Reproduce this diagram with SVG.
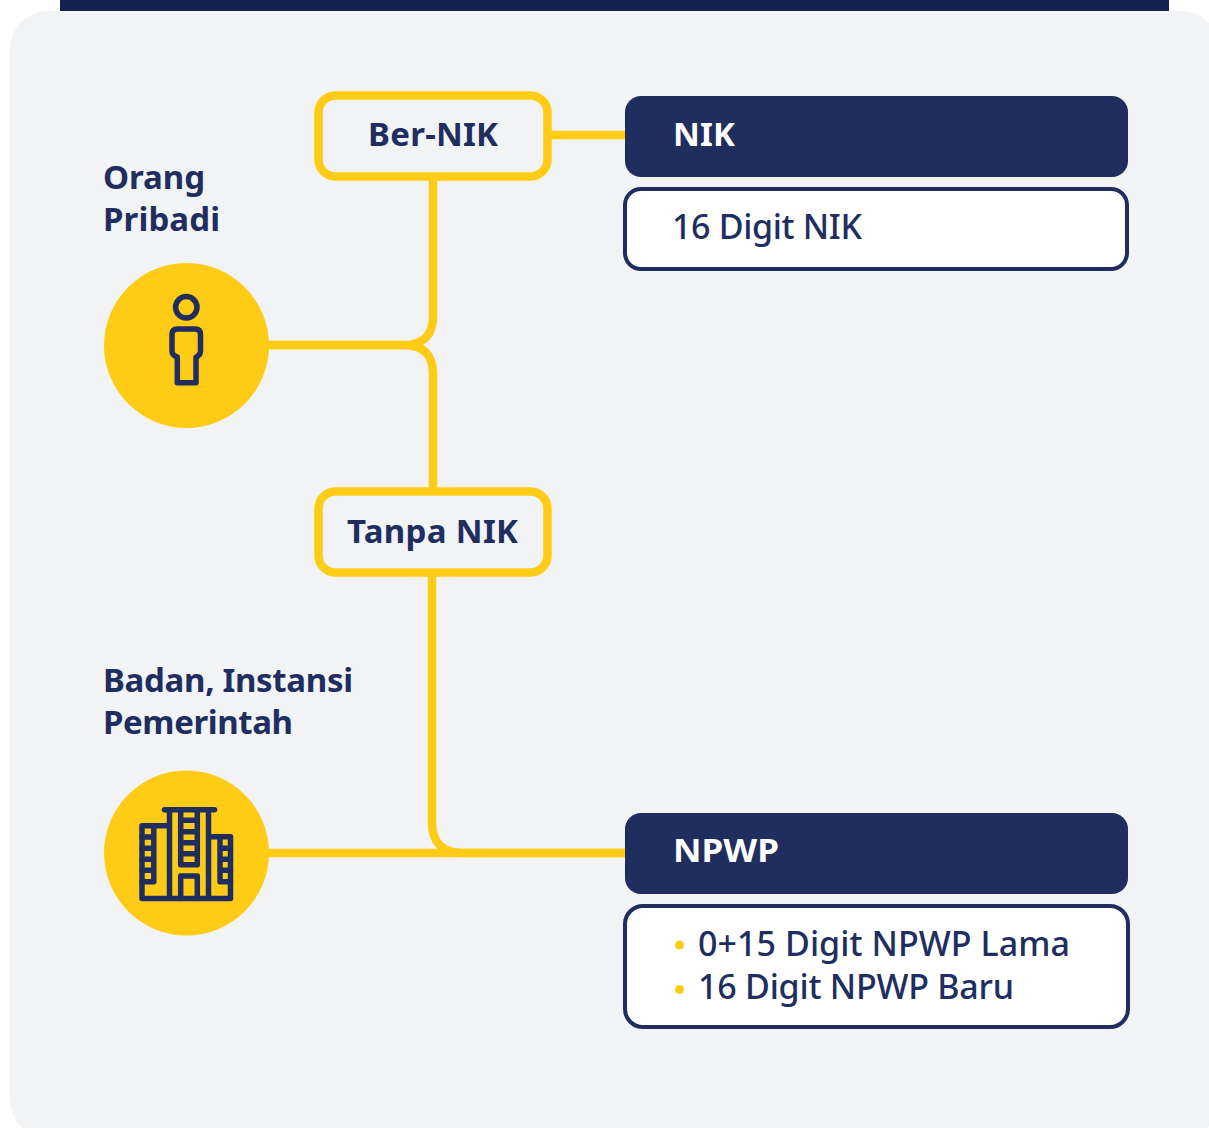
<svg xmlns="http://www.w3.org/2000/svg" width="1209" height="1128" viewBox="0 0 1209 1128">
<style>
text{font-family:"Noto Sans","Open Sans",sans-serif;fill:#202e5f}
.b{font-weight:700;font-size:33px}
.l{font-weight:700;font-size:33px}
.r{font-weight:500;font-size:34px}
.conn{fill:none;stroke:#fecb16;stroke-width:8.500}
.y{fill:#f2f3f5;stroke:#fecb16;stroke-width:8.500}
.d{fill:#202e5f}
.w{fill:#fff;stroke:#202e5f;stroke-width:4}
.i{fill:none;stroke:#202e5f;stroke-width:5.500;stroke-linejoin:round;stroke-linecap:round}
</style>
<rect width="1209" height="1128" fill="#fff"/>
<rect x="10" y="11" width="1209" height="1127" rx="38" fill="#f2f3f5"/>
<rect x="60" y="0" width="1109" height="11" fill="#15224f"/>
<g id="connectors" class="conn">
<path d="M548 135H626"/>
<path d="M268 345H404Q433 345 433 316V178"/>
<path d="M268 345H404Q433 345 433 374V490"/>
<path d="M432 575V822Q432 853 463 853H626"/>
<path d="M268 853H626"/>
</g>
<g id="ber-nik"><rect class="y" x="318.500" y="95.500" width="229" height="81" rx="17"/><text class="b" x="368" y="146" textLength="130">Ber-NIK</text></g>
<g id="tanpa-nik"><rect class="y" x="318.500" y="491.500" width="229" height="81" rx="17"/><text class="b" x="347" y="543" textLength="171">Tanpa NIK</text></g>
<g id="orang-pribadi">
<text class="l" x="103" y="189" textLength="102">Orang</text><text class="l" x="103" y="231" textLength="117">Pribadi</text>
<circle cx="186.500" cy="345.500" r="82.500" fill="#fecb16"/>
<circle class="i" cx="186.300" cy="307.300" r="10.700"/>
<path class="i" d="M177.500 329H195Q200.500 329 200.500 334.500V351Q200.500 355.500 196 357V382.700H177.300V357Q172 355.500 172 351V334.500Q172 329 177.500 329Z"/>
</g>
<g id="badan">
<text class="l" x="103" y="692" textLength="250">Badan, Instansi</text><text class="l" x="103" y="734" textLength="190">Pemerintah</text>
<circle cx="186.500" cy="853" r="82.500" fill="#fecb16"/>
<path class="i" d="M164.500 809.700H214.500M169.500 809.700V898.500M208.500 809.700V898.500M169.500 825.700H142V898.500H230.500V836.700H208.500"/>
<path class="i" d="M153.800 825.700V881.700H142M142 837H153.800M142 848.300H153.800M142 859.300H153.800M142 870.300H153.800"/>
<path class="i" d="M230.500 881.700H220V836.700M220 848.300H230.500M220 859.300H230.500M220 870.300H230.500"/>
<path class="i" d="M180.700 809.700V864.700H197.300V809.700M180.700 820.300H197.300M180.700 831.700H197.300M180.700 842.700H197.300M180.700 853.700H197.300"/>
<path class="i" d="M180.700 898.500V876H197.300V898.500"/>
</g>
<g id="nik"><rect class="d" x="625" y="96" width="503" height="81" rx="16"/><text x="673" y="146" class="b" style="fill:#fff" textLength="62">NIK</text></g>
<g id="nik-detail"><rect class="w" x="625" y="189" width="502" height="80" rx="16"/><text class="r" x="672" y="239" textLength="190">16 Digit NIK</text></g>
<g id="npwp"><rect class="d" x="625" y="813" width="503" height="81" rx="16"/><text x="673" y="862" class="b" style="fill:#fff" textLength="106" lengthAdjust="spacingAndGlyphs">NPWP</text></g>
<g id="npwp-detail"><rect class="w" x="625" y="906" width="503" height="121" rx="18"/>
<circle cx="679.500" cy="945" r="4.500" fill="#fecb16"/><circle cx="679.500" cy="989.500" r="4.500" fill="#fecb16"/>
<text class="r" x="698" y="956" textLength="372">0+15 Digit NPWP Lama</text><text class="r" x="698" y="999" textLength="316">16 Digit NPWP Baru</text></g>
</svg>
